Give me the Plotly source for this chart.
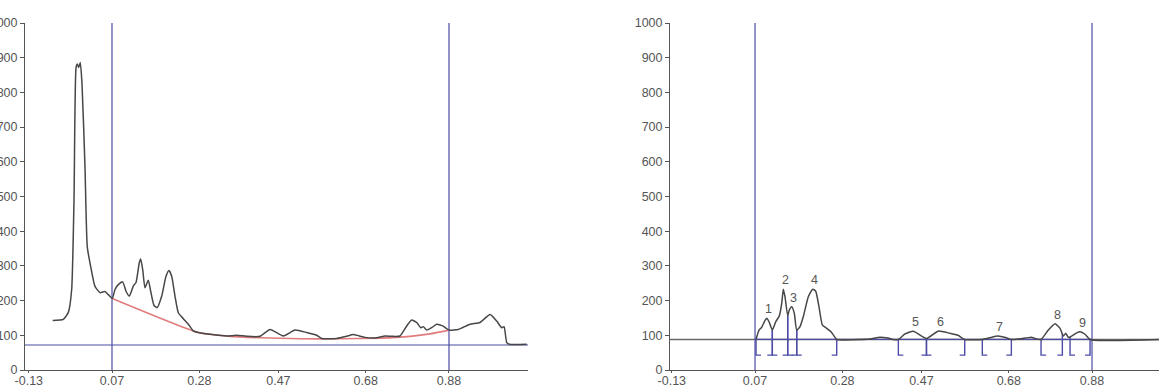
import numpy as np
import plotly.graph_objects as go

# ---- left panel: raw densitometer trace and fitted background ----
raw_x = [-0.0725, -0.0471, -0.0350, -0.0269, -0.0213, -0.0165, -0.0134, -0.0100, -0.0062,
         -0.0021, 0.0051, 0.0106, 0.0188, 0.0291, 0.0412, 0.0532, 0.0604, 0.0707,
         0.0772, 0.0851, 0.0957, 0.1037, 0.1116, 0.1212, 0.1277, 0.1356, 0.1390, 0.1438,
         0.1493, 0.1573, 0.1630, 0.1710, 0.1789, 0.1895, 0.1998, 0.2070, 0.2135, 0.2214,
         0.2294, 0.2414, 0.2535, 0.2654, 0.2775, 0.3056, 0.3457, 0.3697, 0.3938, 0.4258,
         0.4498, 0.4818, 0.5100, 0.5380, 0.5621, 0.5741, 0.6102, 0.6342, 0.6501, 0.6782,
         0.7063, 0.7263, 0.7424, 0.7623, 0.7784, 0.7904, 0.8024, 0.8121, 0.8183, 0.8265,
         0.8385, 0.8505, 0.8649, 0.8801, 0.9024, 0.9306, 0.9546, 0.9786, 0.9947, 1.0067,
         1.0123, 1.0188, 1.0250, 1.0668]
raw_y = [143, 146, 166, 232, 490, 871, 882, 872, 886,
         825, 585, 355, 298, 241, 223, 226, 218, 206,
         232, 246, 254, 227, 213, 242, 252, 309, 320, 289,
         237, 259, 227, 186, 180, 213, 270, 287, 270, 213,
         165, 148, 132, 113, 108, 103, 98, 100, 97, 97,
         117, 98, 115, 108, 100, 91, 91, 97, 102, 94,
         93, 98, 97, 98, 127, 144, 137, 122, 125, 115,
         122, 132, 127, 115, 117, 132, 137, 160, 141, 122,
         125, 79, 74, 74]

bg_x = [0.0707, 0.2775, 0.3538, 0.4258, 0.5219, 0.6181, 0.7142, 0.7863, 0.8344, 0.8801]
bg_y = [206, 108, 97, 93, 90, 90, 92, 97, 104, 115]

left_floor = 72

# ---- right panel: background-corrected trace with integrated peaks ----
cor_x = [0.0724, 0.0796, 0.0861, 0.0924, 0.0981, 0.1037, 0.1116, 0.1198, 0.1284, 0.1342,
         0.1380, 0.1421, 0.1486, 0.1525, 0.1582, 0.1645, 0.1702, 0.1782, 0.1861, 0.1981,
         0.2087, 0.2159, 0.2238, 0.2318, 0.2424, 0.2527, 0.2623, 0.2664,
         0.3464, 0.3657, 0.3897, 0.4017,
         0.4145, 0.4306, 0.4505, 0.4821, 0.5100, 0.5380, 0.5580, 0.5740,
         0.6163, 0.6339, 0.6538, 0.6740, 0.6861,
         0.7191, 0.7359, 0.7479,
         0.7575, 0.7751, 0.7911, 0.8032, 0.8111, 0.8169, 0.8224,
         0.8272, 0.8433, 0.8512, 0.8632, 0.8753, 1.041]
cor_y = [88, 115, 123, 139, 149, 139, 115, 139, 156, 192,
         233, 211, 156, 173, 182, 163, 115, 125, 154, 211,
         233, 227, 182, 130, 120, 110, 94, 88,
         89, 94, 92, 88,
         88, 104, 112, 91, 112, 106, 100, 88,
         88, 93, 98, 93, 88,
         92, 94, 89,
         88, 115, 133, 120, 98, 106, 95,
         95, 107, 110, 103, 88, 88]

right_floor = 88
peak_names = ["1", "2", "3", "4", "5", "6", "7", "8", "9"]
peak_start = [0.0724, 0.1116, 0.1486, 0.1702, 0.4145, 0.4821, 0.6163, 0.7575, 0.8272]
peak_end = [0.1116, 0.1486, 0.1702, 0.2664, 0.4821, 0.5740, 0.6861, 0.8087, 0.8753]
bracket_level = 43

# ---- lane limits and axes ----
lane_limits = [0.07, 0.88]
tick_vals = [-0.13, 0.07, 0.28, 0.47, 0.68, 0.88]
tick_text = ["-0.13", "0.07", "0.28", "0.47", "0.68", "0.88"]
y_ticks = list(range(0, 1001, 100))

trace_col = "#474747"
bg_col = "#e07c7c"
lane_col = "#4c4ca6"
axis_col = "#555555"
font = dict(family="Liberation Sans, Arial", size=12.5, color="#555555")

fig = go.Figure()

# left panel
fig.add_trace(go.Scatter(x=[-0.1391, 1.07], y=[left_floor, left_floor], mode="lines",
                         line=dict(color=lane_col, width=1.2), xaxis="x", yaxis="y",
                         hoverinfo="skip"))
for lx in lane_limits:
    fig.add_trace(go.Scatter(x=[lx, lx], y=[0, 1000], mode="lines",
                             line=dict(color=lane_col, width=1.2), xaxis="x", yaxis="y",
                             hoverinfo="skip"))
fig.add_trace(go.Scatter(x=bg_x, y=bg_y, mode="lines",
                         line=dict(color=bg_col, width=1.6, shape="spline", smoothing=0.5),
                         xaxis="x", yaxis="y"))
fig.add_trace(go.Scatter(x=raw_x, y=raw_y, mode="lines",
                         line=dict(color=trace_col, width=1.5, shape="spline", smoothing=0.5),
                         xaxis="x", yaxis="y"))

# right panel
fig.add_trace(go.Scatter(x=[-0.1343, 1.041], y=[right_floor, right_floor], mode="lines",
                         line=dict(color="#6a6a6a", width=1.4), xaxis="x2", yaxis="y2",
                         hoverinfo="skip"))
fig.add_trace(go.Scatter(x=lane_limits, y=[right_floor, right_floor], mode="lines",
                         line=dict(color=lane_col, width=1.2), xaxis="x2", yaxis="y2",
                         hoverinfo="skip"))
for lx in lane_limits:
    fig.add_trace(go.Scatter(x=[lx, lx], y=[0, 1000], mode="lines",
                             line=dict(color=lane_col, width=1.2), xaxis="x2", yaxis="y2",
                             hoverinfo="skip"))

# peak brackets: drop lines from the trace down to the bracket level
tick_w = 0.012
bx, by = [], []
for s, e in zip(peak_start, peak_end):
    top_s = float(np.interp(s, cor_x, cor_y))
    top_e = float(np.interp(e, cor_x, cor_y))
    bx += [s, s, s + tick_w, None, e - tick_w, e, e, None]
    by += [top_s, bracket_level, bracket_level, None, bracket_level, bracket_level, top_e, None]
fig.add_trace(go.Scatter(x=bx, y=by, mode="lines", line=dict(color=lane_col, width=1.4),
                         xaxis="x2", yaxis="y2", hoverinfo="skip"))

fig.add_trace(go.Scatter(x=cor_x, y=cor_y, mode="lines",
                         line=dict(color=trace_col, width=1.5, shape="spline", smoothing=0.5),
                         xaxis="x2", yaxis="y2"))

# peak numbers above each apex
cx = np.array(cor_x)
cy = np.array(cor_y)
for name, s, e in zip(peak_names, peak_start, peak_end):
    m = (cx >= s) & (cx <= e)
    i = int(np.argmax(cy[m]))
    fig.add_annotation(x=float(cx[m][i]), y=float(cy[m][i]), text=name, showarrow=False,
                       xref="x2", yref="y2", yanchor="bottom", xanchor="center",
                       xshift=2, yshift=0, font=font)

axis_common = dict(showline=True, linecolor=axis_col, linewidth=1, showgrid=False,
                   zeroline=False, ticks="outside", tickcolor=axis_col, tickfont=font)
x_common = dict(ticklen=2, ticklabelstandoff=-3, **axis_common)
y_common = dict(ticklen=4, **axis_common)

fig.update_layout(
    width=1159, height=387,
    margin=dict(l=25, r=0, t=23, b=17, autoexpand=False),
    paper_bgcolor="white", plot_bgcolor="white",
    showlegend=False,
    xaxis=dict(domain=[0, 0.4436], range=[-0.1391, 1.07], tickvals=tick_vals,
               ticktext=tick_text, anchor="y", **x_common),
    yaxis=dict(domain=[0, 1], range=[0, 1000], tickvals=y_ticks, anchor="x", **y_common),
    xaxis2=dict(domain=[0.5688, 1], range=[-0.1343, 1.041], tickvals=tick_vals,
                ticktext=tick_text, anchor="y2", **x_common),
    yaxis2=dict(domain=[0, 1], range=[0, 1000], tickvals=y_ticks, anchor="x2", **y_common),
)

fig.write_html("out.html")
